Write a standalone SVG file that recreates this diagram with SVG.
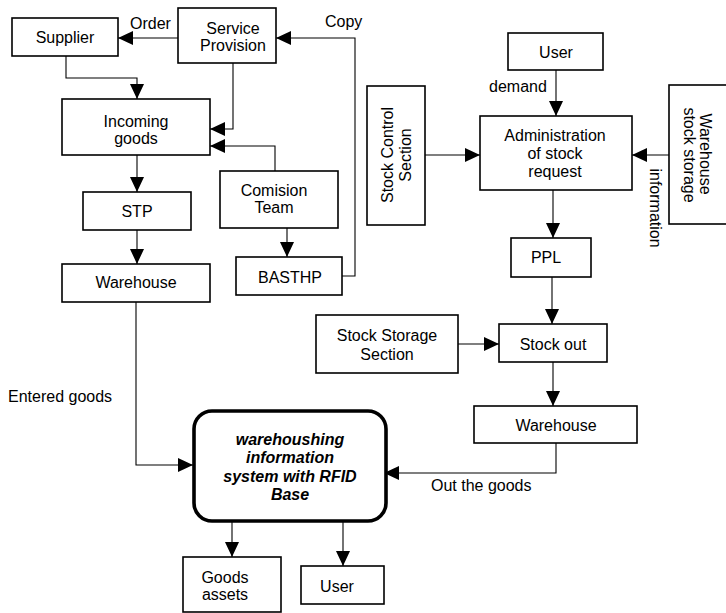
<svg xmlns="http://www.w3.org/2000/svg" width="726" height="613" viewBox="0 0 726 613">
  <defs>
    <marker id="arrow" markerUnits="userSpaceOnUse" markerWidth="15" markerHeight="14" refX="15" refY="7" orient="auto">
      <path d="M0,0 L15,7 L0,14 z" fill="#000"/>
    </marker>
    <style>
      .box { fill: #fff; stroke: #000; stroke-width: 1.6; }
      .main { fill: #fff; stroke: #000; stroke-width: 3.6; }
      .link { fill: none; stroke: #000; stroke-width: 1.1; marker-end: url(#arrow); }
      text { font-family: "Liberation Sans", Arial, sans-serif; font-size: 16px; fill: #000; }
      .c { text-anchor: middle; }
      .bi { font-weight: bold; font-style: italic; }
    </style>
  </defs>
  <rect width="726" height="613" fill="#fff"/>

  <!-- connectors -->
  <g id="connectors">
    <path class="link" d="M178,38 H118"/>
    <path class="link" d="M66,56 V78 H137 V99"/>
    <path class="link" d="M233,63 V129 H210"/>
    <path class="link" d="M275,171 V146 H210"/>
    <path class="link" d="M137,155 V192"/>
    <path class="link" d="M137,230 V264"/>
    <path class="link" d="M287,228 V257"/>
    <path class="link" d="M342,276 H355 V38 H276"/>
    <path class="link" d="M136,302 V465 H193"/>
    <path class="link" d="M556,70 V116"/>
    <path class="link" d="M425,155 H480"/>
    <path class="link" d="M669,155 H632"/>
    <path class="link" d="M553,190 V238"/>
    <path class="link" d="M552,277 V324"/>
    <path class="link" d="M458,344 H499"/>
    <path class="link" d="M553,362 V406"/>
    <path class="link" d="M556,443 V473 H384"/>
    <path class="link" d="M232,522 V557"/>
    <path class="link" d="M343,522 V566"/>
  </g>

  <!-- connector labels -->
  <g id="labels">
    <text x="130" y="29">Order</text>
    <text x="325" y="27">Copy</text>
    <text x="489" y="92">demand</text>
    <text x="650" y="208" class="c" transform="rotate(90 650 208)">information</text>
    <text x="8" y="402">Entered goods</text>
    <text x="431" y="491">Out the goods</text>
  </g>

  <!-- nodes -->
  <g id="supplier">
    <rect class="box" x="12" y="18" width="106" height="38"/>
    <text class="c" x="65" y="43">Supplier</text>
  </g>
  <g id="service-provision">
    <rect class="box" x="178" y="8" width="98" height="55"/>
    <text class="c" x="233" y="34">Service</text>
    <text class="c" x="233" y="51">Provision</text>
  </g>
  <g id="incoming-goods">
    <rect class="box" x="62" y="99" width="148" height="56"/>
    <text class="c" x="136" y="127">Incoming</text>
    <text class="c" x="136" y="144">goods</text>
  </g>
  <g id="comision-team">
    <rect class="box" x="220" y="171" width="118" height="57"/>
    <text class="c" x="274" y="196">Comision</text>
    <text class="c" x="274" y="213">Team</text>
  </g>
  <g id="stp">
    <rect class="box" x="83" y="192" width="108" height="38"/>
    <text class="c" x="137" y="217">STP</text>
  </g>
  <g id="warehouse-in">
    <rect class="box" x="62" y="264" width="148" height="38"/>
    <text class="c" x="136" y="288">Warehouse</text>
  </g>
  <g id="basthp">
    <rect class="box" x="236" y="257" width="106" height="38"/>
    <text class="c" x="290" y="283">BASTHP</text>
  </g>
  <g id="user-top">
    <rect class="box" x="508" y="33" width="95" height="37"/>
    <text class="c" x="556" y="58">User</text>
  </g>
  <g id="stock-control-section">
    <rect class="box" x="367" y="86" width="58" height="139"/>
    <text class="c" x="393" y="155" transform="rotate(-90 393 155)">Stock Control</text>
    <text class="c" x="411" y="155" transform="rotate(-90 411 155)">Section</text>
  </g>
  <g id="administration">
    <rect class="box" x="480" y="116" width="152" height="74"/>
    <text class="c" x="555" y="141">Administration</text>
    <text class="c" x="555" y="159">of stock</text>
    <text class="c" x="555" y="177">request</text>
  </g>
  <g id="warehouse-stock-storage">
    <rect class="box" x="669" y="85" width="80" height="139"/>
    <text class="c" x="700" y="154" transform="rotate(90 700 154)">Warehouse</text>
    <text class="c" x="684" y="155" transform="rotate(90 684 155)">stock storage</text>
  </g>
  <g id="ppl">
    <rect class="box" x="511" y="238" width="80" height="39"/>
    <text class="c" x="546" y="263">PPL</text>
  </g>
  <g id="stock-storage-section">
    <rect class="box" x="316" y="315" width="142" height="58"/>
    <text class="c" x="387" y="341">Stock Storage</text>
    <text class="c" x="387" y="360">Section</text>
  </g>
  <g id="stock-out">
    <rect class="box" x="499" y="324" width="108" height="38"/>
    <text class="c" x="553" y="350">Stock out</text>
  </g>
  <g id="warehouse-out">
    <rect class="box" x="474" y="406" width="163" height="37"/>
    <text class="c" x="556" y="431">Warehouse</text>
  </g>
  <g id="rfid-system">
    <rect class="main" x="194" y="411" width="192" height="110" rx="18" ry="18"/>
    <text class="c bi" x="290" y="445">warehoushing</text>
    <text class="c bi" x="290" y="463">information</text>
    <text class="c bi" x="290" y="482">system with RFID</text>
    <text class="c bi" x="290" y="500">Base</text>
  </g>
  <g id="goods-assets">
    <rect class="box" x="183" y="557" width="98" height="55"/>
    <text class="c" x="225" y="583">Goods</text>
    <text class="c" x="225" y="600">assets</text>
  </g>
  <g id="user-bottom">
    <rect class="box" x="301" y="566" width="83" height="38"/>
    <text class="c" x="337" y="592">User</text>
  </g>
</svg>
